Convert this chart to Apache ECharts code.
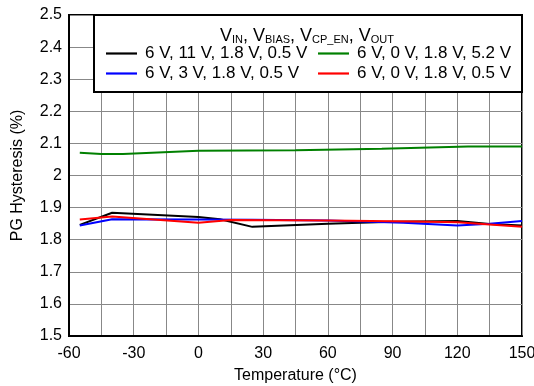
<!DOCTYPE html>
<html><head><meta charset="utf-8">
<script src="https://cdn.jsdelivr.net/npm/echarts@6/dist/echarts.min.js"></script>
<style>html,body{margin:0;padding:0;background:#fff}#c{width:534px;height:386px}</style>
</head><body><div id="c"></div>
<script>
var blackT = [-55, -40, 0, 10, 25, 60, 90, 120, 135, 150];
var blackV = [1.846, 1.884, 1.871, 1.864, 1.840, 1.850, 1.856, 1.858, 1.849, 1.844];
var greenT = [-55, -45, -35, 0, 45, 85, 125, 150];
var greenV = [2.071, 2.067, 2.067, 2.077, 2.079, 2.083, 2.090, 2.090];
var blueT = [-55, -40, 0, 25, 60, 95, 120, 135, 150];
var blueV = [1.844, 1.864, 1.863, 1.862, 1.860, 1.853, 1.844, 1.850, 1.858];
var redT = [-55, -40, 0, 15, 60, 100, 120, 150];
var redV = [1.863, 1.872, 1.853, 1.861, 1.860, 1.857, 1.854, 1.840];
var names = ['6 V, 11 V, 1.8 V, 0.5 V', '6 V, 0 V, 1.8 V, 5.2 V', '6 V, 3 V, 1.8 V, 0.5 V', '6 V, 0 V, 1.8 V, 0.5 V'];
var colors = ['#000000', '#008000', '#0000ff', '#ff0000'];
var xLabelStep = 30;
function zip(t, v) { return t.map(function (x, i) { return [x, v[i]]; }); }
var font = 'Liberation Sans, Arial, sans-serif';
var chart = echarts.init(document.getElementById('c'));
var sets = [[blackT, blackV], [greenT, greenV], [blueT, blueV], [redT, redV]];
var legendCommon = { orient: 'vertical', top: 45, padding: 0, itemWidth: 31, itemHeight: 10, itemGap: 3,
  icon: 'path://M0,4h31v2.2h-31z', z: 30, textStyle: { fontSize: 17, color: '#000', fontFamily: font, padding: [0, 0, 0, 3] } };
chart.setOption({
  animation: false,
  textStyle: { fontFamily: font },
  grid: { left: 69, right: 12, top: 15, bottom: 50, outerBoundsMode: 'none', containLabel: false,
    show: true, borderColor: '#000', borderWidth: 2, backgroundColor: 'transparent' },
  xAxis: {
    type: 'value', min: -60, max: 150, interval: 15,
    name: 'Temperature (°C)', nameLocation: 'middle', nameGap: 32,
    nameTextStyle: { fontSize: 16, color: '#000', fontFamily: font },
    axisLine: { onZero: false, lineStyle: { color: '#000', width: 2 } },
    axisTick: { show: false },
    axisLabel: { fontSize: 16, color: '#000', margin: 10, fontFamily: font, hideOverlap: false,
      formatter: function (v) { return (Math.round(v) % xLabelStep === 0) ? String(v) : ''; } },
    splitLine: { lineStyle: { color: '#888', width: 1 } }
  },
  yAxis: {
    type: 'value', min: 1.5, max: 2.5, interval: 0.1,
    name: 'PG Hysteresis (%)', nameLocation: 'middle', nameGap: 43,
    nameTextStyle: { fontSize: 16, color: '#000', fontFamily: font },
    axisLine: { onZero: false, lineStyle: { color: '#000', width: 2 } },
    axisTick: { show: false },
    axisLabel: { fontSize: 16, color: '#000', margin: 7, fontFamily: font },
    splitLine: { lineStyle: { color: '#888', width: 1 } }
  },
  legend: [
    Object.assign({}, legendCommon, { data: [names[0], names[2]], left: 106 }),
    Object.assign({}, legendCommon, { data: [names[1], names[3]], left: 318 })
  ],
  graphic: [
    { type: 'rect', z: 10, shape: { x: 94, y: 15, width: 428, height: 77 }, style: { fill: '#fff', stroke: '#000', lineWidth: 2 } },
    { type: 'text', z: 11, x: 307, y: 36,
      style: {
        text: 'V{s|IN}, V{s|BIAS}, V{s|CP_EN}, V{s|OUT}',
        align: 'center', verticalAlign: 'middle',
        font: '18px ' + font, fill: '#000',
        rich: { s: { fontSize: 11, fontFamily: font, padding: [7, 0, 0, 0] } }
      } }
  ],
  series: sets.map(function (s, i) {
    return { type: 'line', name: names[i], data: zip(s[0], s[1]), showSymbol: false, symbol: 'none',
      lineStyle: { color: colors[i], width: 2 }, itemStyle: { color: colors[i] }, z: 3 };
  })
});
</script></body></html>
